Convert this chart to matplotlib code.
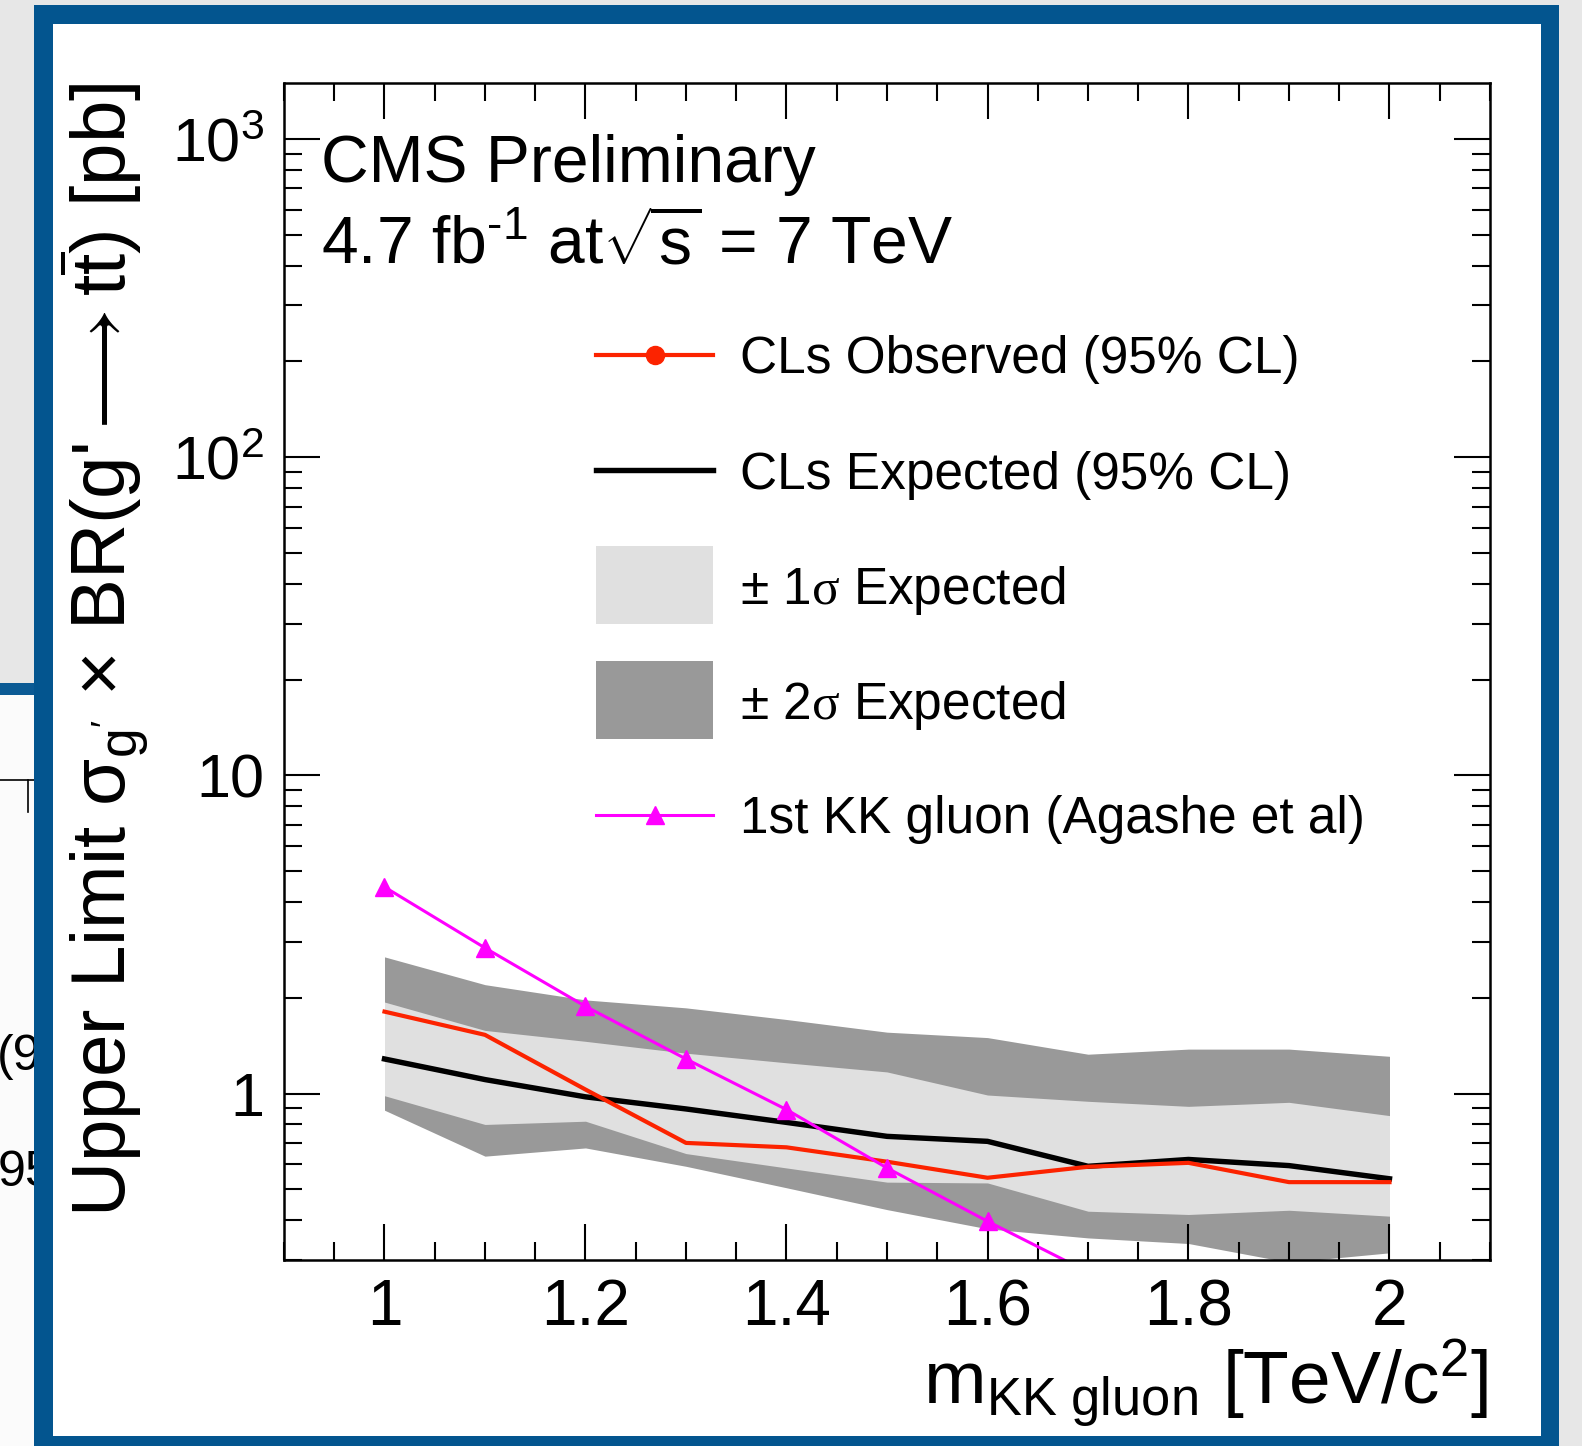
"""
CMS preliminary KK-gluon limit plot (g' -> ttbar), redrawn with matplotlib.
Observed / expected CLs limits with 1 and 2 sigma bands, plus the KK gluon
theory curve, inside the blue slide frame of the original screenshot.
"""
import numpy as np
import matplotlib
matplotlib.use("Agg")
import matplotlib.pyplot as plt
from matplotlib.lines import Line2D
from matplotlib.patches import Rectangle
from matplotlib.ticker import MultipleLocator, LogLocator, NullFormatter

plt.rcParams['font.family'] = ['Liberation Sans', 'DejaVu Sans']
plt.rcParams['mathtext.fontset'] = 'custom'
plt.rcParams['mathtext.rm'] = 'Liberation Sans'
plt.rcParams['mathtext.it'] = 'Liberation Sans:italic'
plt.rcParams['mathtext.bf'] = 'Liberation Sans:bold'
plt.rcParams['mathtext.sf'] = 'Liberation Serif'   # serif sigma in the legend
plt.rcParams['mathtext.fallback'] = 'cm'
plt.rcParams['mathtext.default'] = 'regular'

# ---- data (TeV/c^2, pb) ----
mass = [1.0, 1.1, 1.2, 1.3, 1.4, 1.5, 1.6, 1.7, 1.8, 1.9, 2.0]
obs = [1.81, 1.53, 1.03, 0.700, 0.678, 0.611, 0.544, 0.589, 0.606, 0.527, 0.527]
exp = [1.285, 1.107, 0.977, 0.895, 0.812, 0.734, 0.708, 0.591, 0.621, 0.594, 0.540]
one_lo = [0.985, 0.80, 0.819, 0.648, 0.584, 0.527, 0.524, 0.427, 0.417, 0.430, 0.412]
one_hi = [1.94, 1.58, 1.46, 1.34, 1.25, 1.17, 0.99, 0.946, 0.912, 0.939, 0.853]
two_lo = [0.887, 0.636, 0.675, 0.591, 0.506, 0.432, 0.376, 0.352, 0.338, 0.295, 0.316]
two_hi = [2.69, 2.20, 1.97, 1.86, 1.71, 1.56, 1.50, 1.33, 1.38, 1.38, 1.31]
kk_mass = [1.0, 1.1, 1.2, 1.3, 1.4, 1.5, 1.6, 1.7]
kk_xsec = [4.46, 2.87, 1.88, 1.285, 0.891, 0.584, 0.397, 0.275]

xticks = [1.0, 1.2, 1.4, 1.6, 1.8, 2.0]
xticklabels = ['1', '1.2', '1.4', '1.6', '1.8', '2']
yticks = [1, 10, 100, 1000]
yticklabels = ['1', '10', r'$10^{2}$', r'$10^{3}$']
leg_labels = ['CLs Observed (95% CL)', 'CLs Expected (95% CL)',
              r'± 1$\mathsf{\sigma}$ Expected', r'± 2$\mathsf{\sigma}$ Expected',
              '1st KK gluon (Agashe et al)']

RED, MAG, BLUE = '#fc2300', '#ff00ff', '#03558f'
BAND1, BAND2 = '#e0e0e0', '#999999'
W, H = 1582, 1446

fig = plt.figure(figsize=(W/100, H/100), dpi=100, facecolor='#e7e7e7')

def fy(y):
    return 1 - y/H

def box(x0, y0, x1, y1, color, z):
    # rectangle given in screenshot pixels (y down)
    fig.add_artist(Rectangle((x0/W, fy(y1)), (x1-x0)/W, (y1-y0)/H,
                             transform=fig.transFigure, color=color, lw=0, zorder=z))

# neighbouring slide peeking out on the left
box(0, 695, 34, H+5, '#fbfbfb', -10)
box(0, 683, 34, 695, '#0b5a94', -10)
fig.add_artist(Line2D([0, 34/W], [fy(780)]*2, transform=fig.transFigure, color='k', lw=1.2, zorder=-9))
fig.add_artist(Line2D([28/W]*2, [fy(780), fy(812)], transform=fig.transFigure, color='k', lw=1.2, zorder=-9))
fig.text(-3/W, fy(1070), '(9', fontsize=36, va='baseline', zorder=-9)
fig.text(-2/W, fy(1186), '95', fontsize=36, va='baseline', zorder=-9)
# blue slide frame
box(34, 5, 1559, H+5, BLUE, -8)
box(53, 24, 1541, 1436, 'white', -7)

ax = fig.add_axes([284/W, fy(1260), 1206/W, 1177/H])
ax.set_facecolor('white')

ax.fill_between(mass, two_lo, two_hi, color=BAND2, lw=0)
ax.fill_between(mass, one_lo, one_hi, color=BAND1, lw=0)
ax.plot(mass, exp, color='k', lw=3.9)
ax.plot(mass, obs, color=RED, lw=3.0)
ax.plot(kk_mass, kk_xsec, color=MAG, lw=2.2, marker='^', ms=13)

ax.set_yscale('log')
ax.set_xlim(0.9, 2.1); ax.set_ylim(0.3, 1500)
ax.set_xticks(xticks, xticklabels)
ax.xaxis.set_minor_locator(MultipleLocator(0.05))
ax.set_yticks(yticks, yticklabels)
ax.yaxis.set_minor_locator(LogLocator(base=10, subs=np.arange(2, 10)))
ax.yaxis.set_minor_formatter(NullFormatter())
ax.tick_params(which='both', direction='in', top=True, right=True, width=1.5)
ax.tick_params(which='major', length=26)
ax.tick_params(which='minor', length=13)
ax.tick_params(axis='x', pad=13, labelsize=46)
ax.tick_params(axis='y', pad=14, labelsize=44)
for s in ax.spines.values():
    s.set_linewidth(1.8)

ax.set_ylabel(r"Upper Limit $\sigma_{g'}$ × BR(g'$\longrightarrow$t$\overline{t}$) [pb]",
              fontsize=55, loc='top')
ax.yaxis.set_label_coords(-0.110, 1.0)
ax.set_xlabel(r'm$_{KK\ gluon}$ [TeV/c$^{2}$]', fontsize=54, loc='right')
ax.xaxis.set_label_coords(1.0 - 2/1206, -0.1232)
ax.xaxis.label.set_va('baseline')

ax.text(0.0307, 0.916, 'CMS Preliminary', transform=ax.transAxes, fontsize=47.5, va='baseline')
ax.text(0.0307, 0.846, r'4.7 fb$^{\text{-}1}$ at$\sqrt{s}$ = 7 TeV', transform=ax.transAxes,
        fontsize=47.5, va='baseline')

# legend, ROOT style: tall rows with boxes for the bands
handles = [('line', RED, 3.0, 'o', 13), ('line', 'k', 3.9, None, 0),
           ('box', BAND1, 0, None, 0), ('box', BAND2, 0, None, 0),
           ('line', MAG, 2.2, '^', 13)]
for i, ((kind, col, lw, mk, ms), label) in enumerate(zip(handles, leg_labels)):
    yc = 355 + 115*i
    if kind == 'box':
        box(596, yc-39, 713, yc+39, col, 5)
    else:
        fig.add_artist(Line2D([596/W, 713/W], [fy(yc)]*2, transform=fig.transFigure,
                              color=col, lw=lw, zorder=5))
        if mk:
            fig.add_artist(Line2D([654.5/W], [fy(yc)], transform=fig.transFigure,
                                  color=col, marker=mk, ms=ms, lw=0, zorder=5))
    fig.text(740/W, fy(yc + 18.5), label, fontsize=37, va='baseline', zorder=5)

fig.savefig('out.png', dpi=100, facecolor=fig.get_facecolor())
